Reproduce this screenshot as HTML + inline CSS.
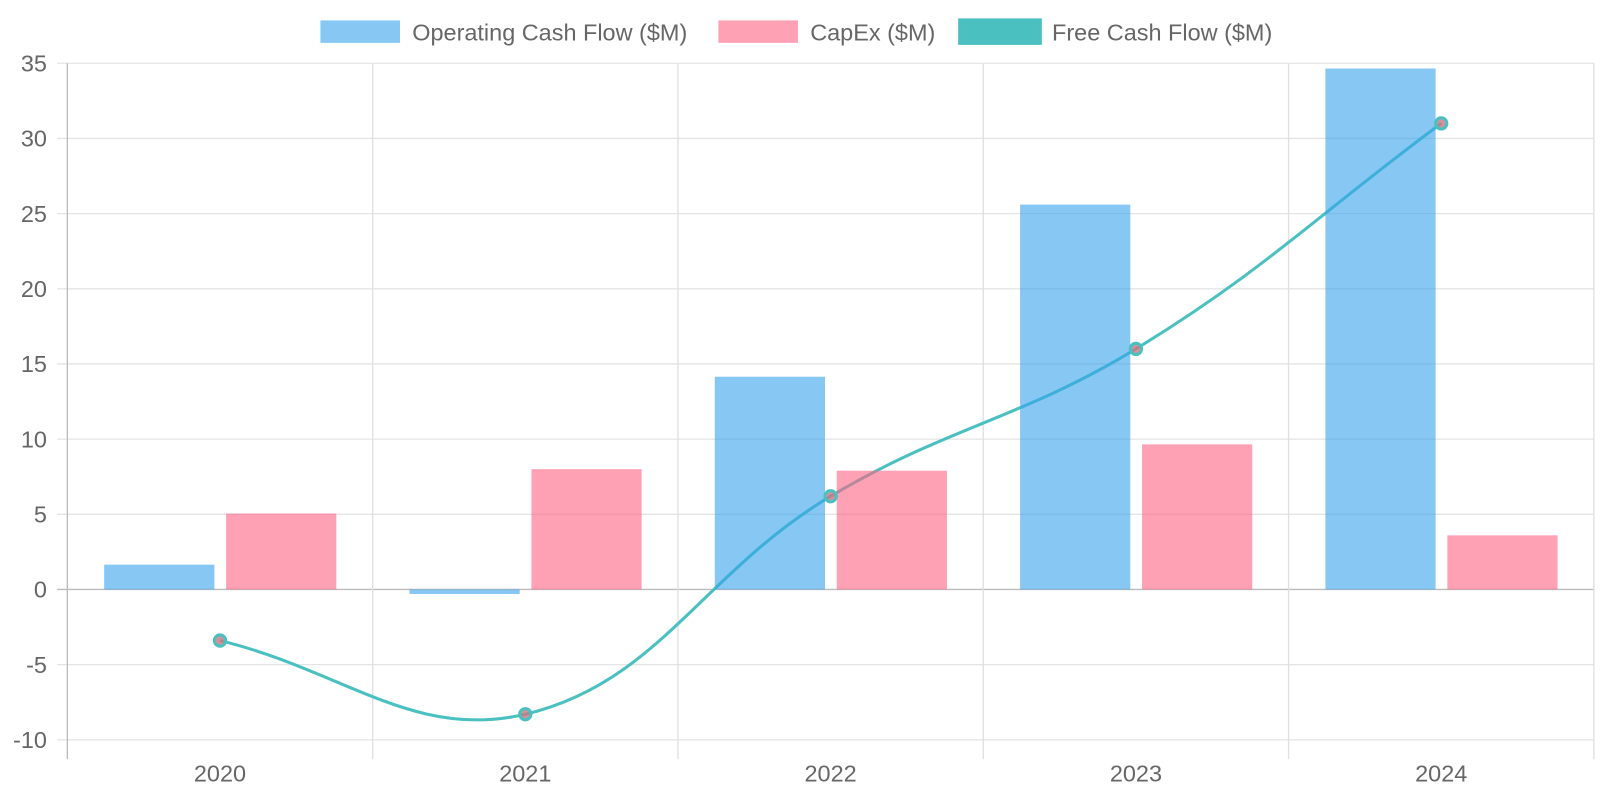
<!DOCTYPE html>
<html><head><meta charset="utf-8"><style>
html,body{margin:0;padding:0;background:#fff;}
svg{display:block;font-family:"Liberation Sans",sans-serif;}
</style></head><body>
<svg id="c" width="1600" height="800" xmlns="http://www.w3.org/2000/svg">
<g transform="scale(1.020408)">
<g fill="#666" font-size="23">
<rect x="314" y="20" width="78" height="22" fill="rgba(54,162,235,0.6)"/>
<text x="404" y="39.5">Operating Cash Flow ($M)</text>
<rect x="704" y="20" width="78" height="22" fill="rgba(255,99,132,0.6)"/>
<text x="794" y="39.5">CapEx ($M)</text>
<rect x="939" y="18" width="82" height="26" fill="rgba(75,192,192,1)"/>
<text x="1031" y="39.5">Free Cash Flow ($M)</text>
</g>
<g id="grid"></g>
<g id="line"></g>
<g id="bars"></g>
<g id="pts"></g>
</g>
</svg>
<script>
var NS="http://www.w3.org/2000/svg";
function el(p,t,a,txt){var e=document.createElementNS(NS,t);for(var k in a)e.setAttribute(k,a[k]);if(txt!=null)e.textContent=txt;document.getElementById(p).appendChild(e);return e;}
var L=66,R=1562,T=62,B=725,pu=(B-T)/45;
function Y(v){return T+(35-v)*pu;}
var cw=(R-L)/5;
for(var v=-10;v<=35;v+=5){var y=Y(v);
el("grid","line",{x1:56,x2:R,y1:y,y2:y,stroke:v==0?"#bbb":"#e4e4e4","stroke-width":1.3});
el("grid","text",{x:46,y:y+8,"text-anchor":"end",fill:"#666","font-size":23},String(v));}
for(var i=0;i<=5;i++){var x=L+i*cw;el("grid","line",{x1:x,x2:x,y1:T,y2:744,stroke:i==0?"#bbb":"#e0e0e0","stroke-width":1.3});}
var yrs=["2020","2021","2022","2023","2024"];
var ocf=[1.65,-0.3,14.15,25.6,34.65],cap=[5.05,8.0,7.9,9.65,3.6],fcf=[-3.4,-8.3,6.2,16.0,31.0];
var P=[];
for(var i=0;i<5;i++){var cx=L+cw*(i+0.5);
el("grid","text",{x:cx,y:766,"text-anchor":"middle",fill:"#666","font-size":23},yrs[i]);
var a=Y(0),b=Y(ocf[i]);el("bars","rect",{x:cx-113.5,y:Math.min(a,b),width:108,height:Math.abs(a-b),fill:"rgba(54,162,235,0.6)"});
b=Y(cap[i]);el("bars","rect",{x:cx+6,y:Math.min(a,b),width:108,height:Math.abs(a-b),fill:"rgba(255,99,132,0.6)"});
P.push([cx,Y(fcf[i])]);}
var t=0.4,cps=[];
for(var i=0;i<5;i++){var c=P[i],p=P[i-1]||c,n=P[i+1]||c;
var d01=Math.hypot(c[0]-p[0],c[1]-p[1]),d12=Math.hypot(n[0]-c[0],n[1]-c[1]);
var s01=d01/(d01+d12)||0,s12=d12/(d01+d12)||0;var fa=t*s01,fb=t*s12;
cps.push([[c[0]-fa*(n[0]-p[0]),c[1]-fa*(n[1]-p[1])],[c[0]+fb*(n[0]-p[0]),c[1]+fb*(n[1]-p[1])]]);}
var d="M"+P[0][0]+","+P[0][1];
for(var i=1;i<5;i++){d+=" C"+cps[i-1][1]+" "+cps[i][0]+" "+P[i];}
el("line","path",{d:d,fill:"none",stroke:"rgb(75,192,192)","stroke-width":3});
for(var i=0;i<5;i++)el("pts","circle",{cx:P[i][0],cy:P[i][1],r:5.5,fill:"rgba(200,120,130,0.8)",stroke:"rgb(75,192,192)","stroke-width":3});
</script>
</body></html>
